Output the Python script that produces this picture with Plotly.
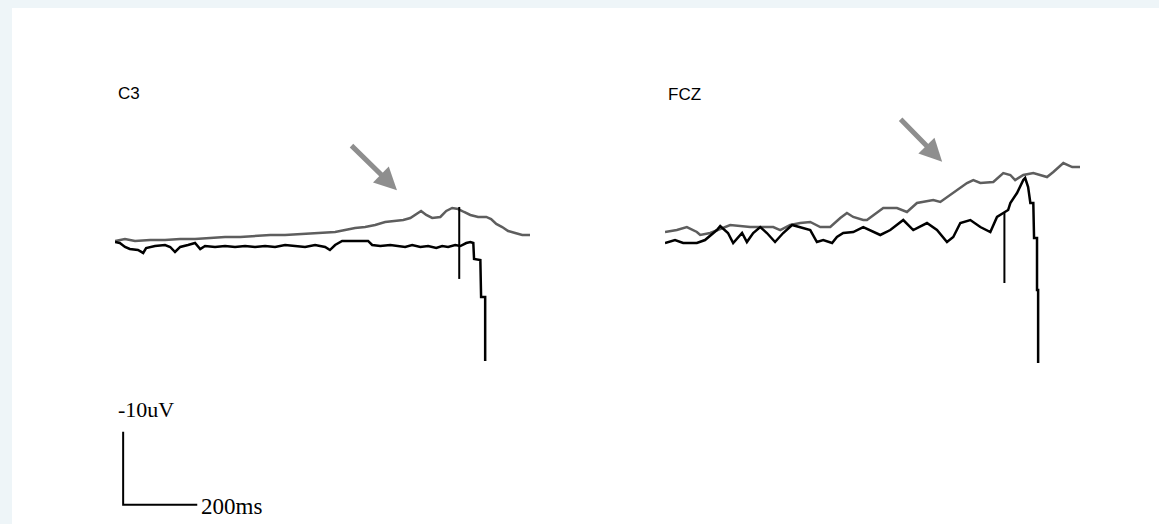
import plotly.graph_objects as go

# ---- data (time in ms, amplitude in uV; negative plotted upward) ----
c3_black_t = [0, 13, 27, 40, 62, 76, 84, 108, 135, 149, 162, 176, 197, 216, 230, 243, 270, 297, 324, 351,
              378, 405, 432, 459, 486, 513, 540, 567, 580, 594, 613, 648, 683, 694, 716, 743, 764, 783, 802,
              824, 845, 867, 883, 899, 918, 932, 948, 959, 967, 969, 986, 988, 999, 999]
c3_black_v = [0.0, 0.14, 0.68, 0.96, 1.1, 1.5, 0.82, 0.55, 0.41, 0.68, 1.37, 0.68, 0.41, 0.14, 0.96, 0.55,
              0.68, 0.55, 0.68, 0.55, 0.68, 0.55, 0.68, 0.41, 0.55, 0.68, 0.41, 0.68, 1.1, 0.41, -0.14, -0.14,
              -0.14, 0.41, 0.55, 0.41, 0.55, 0.68, 0.41, 0.68, 0.55, 0.82, 0.55, 0.68, 0.41, 0.55, 0.14, 0.0,
              0.14, 2.33, 2.47, 7.53, 7.53, 16.3]

c3_gray_t = [0, 27, 54, 95, 135, 176, 216, 257, 297, 338, 378, 419, 459, 500, 540, 567, 594, 621, 648, 675,
             702, 729, 756, 778, 797, 813, 826, 840, 856, 878, 894, 910, 926, 942, 959, 980, 1002, 1015,
             1029, 1045, 1061, 1080, 1099, 1120]
c3_gray_v = [-0.14, -0.41, -0.14, -0.27, -0.27, -0.41, -0.41, -0.55, -0.68, -0.68, -0.82, -0.96, -0.96,
             -1.1, -1.23, -1.23, -1.37, -1.64, -1.92, -2.05, -2.33, -2.74, -2.88, -3.01, -3.29, -3.84,
             -4.25, -3.7, -3.29, -3.43, -4.25, -4.66, -4.52, -4.11, -3.7, -3.43, -3.43, -3.15, -2.47,
             -2.05, -1.51, -1.23, -0.96, -0.96]

fcz_black_t = [0, 27, 49, 86, 108, 140, 149, 170, 184, 208, 221, 238, 257, 275, 297, 319, 343, 365, 392,
               410, 427, 451, 464, 481, 508, 535, 581, 608, 643, 670, 707, 734, 761, 778, 797, 824, 851,
               878, 896, 913, 926, 932, 950, 967, 972, 980, 986, 994, 996, 1004, 1004, 1007, 1007]
fcz_black_v = [0.14, -0.27, 0.14, 0.14, -0.27, -1.64, -2.19, -1.23, 0.14, -1.23, 0.0, -1.23, -2.05, -1.23,
               0.0, -1.23, -2.33, -2.05, -1.64, 0.0, -0.27, 0.14, -0.68, -1.23, -1.37, -2.05, -0.96, -1.64,
               -3.01, -1.64, -2.6, -1.64, 0.0, -0.68, -2.6, -3.01, -2.05, -1.37, -3.43, -3.97, -4.38,
               -5.34, -6.71, -8.49, -8.77, -7.53, -5.34, -5.34, -0.55, -0.55, 6.58, 6.58, 16.58]

fcz_gray_t = [0, 32, 59, 86, 95, 122, 176, 230, 257, 292, 311, 338, 365, 392, 419, 446, 473, 491, 508,
              535, 545, 572, 589, 626, 653, 680, 724, 743, 778, 815, 832, 851, 886, 913, 932, 945, 967,
              994, 1031, 1048, 1075, 1099, 1120]
fcz_gray_v = [-1.37, -1.64, -2.05, -1.37, -0.96, -1.23, -2.33, -2.05, -2.05, -2.05, -1.64, -2.33, -2.6,
              -2.74, -2.05, -2.05, -3.29, -3.97, -3.43, -3.01, -3.01, -3.97, -4.66, -4.66, -4.11, -5.34,
              -5.75, -5.48, -6.71, -8.08, -8.49, -8.08, -8.22, -9.45, -9.18, -8.49, -9.18, -9.45, -8.9,
              -9.59, -10.82, -10.27, -10.27]

# event markers (vertical lines): time, top amplitude, bottom amplitude
c3_event = (929, -4.8, 5.06)
fcz_event = (916, -3.97, 5.62)

# scale bar: 200 ms horizontally, 10 uV vertically
bar_ms = 200
bar_uv = 10
bar_t0 = 22
bar_v0 = 36

channel_labels = ["C3", "FCZ"]

BLACK = "#000000"
GRAY = "#5e5e5e"

fig = go.Figure()

fig.add_trace(go.Scatter(x=c3_gray_t, y=c3_gray_v, mode="lines", xaxis="x", yaxis="y",
                         line=dict(color=GRAY, width=2.5), hoverinfo="skip"))
fig.add_trace(go.Scatter(x=c3_black_t, y=c3_black_v, mode="lines", xaxis="x", yaxis="y",
                         line=dict(color=BLACK, width=2.5), hoverinfo="skip"))
fig.add_trace(go.Scatter(x=[c3_event[0], c3_event[0]], y=[c3_event[1], c3_event[2]], mode="lines",
                         xaxis="x", yaxis="y", line=dict(color=BLACK, width=2), hoverinfo="skip"))

fig.add_trace(go.Scatter(x=fcz_gray_t, y=fcz_gray_v, mode="lines", xaxis="x2", yaxis="y",
                         line=dict(color=GRAY, width=2.5), hoverinfo="skip"))
fig.add_trace(go.Scatter(x=fcz_black_t, y=fcz_black_v, mode="lines", xaxis="x2", yaxis="y",
                         line=dict(color=BLACK, width=2.5), hoverinfo="skip"))
fig.add_trace(go.Scatter(x=[fcz_event[0], fcz_event[0]], y=[fcz_event[1], fcz_event[2]], mode="lines",
                         xaxis="x2", yaxis="y", line=dict(color=BLACK, width=2), hoverinfo="skip"))

# scale bar
fig.add_trace(go.Scatter(x=[bar_t0, bar_t0, bar_t0 + bar_ms], y=[bar_v0 - bar_uv, bar_v0, bar_v0],
                         mode="lines", xaxis="x", yaxis="y", line=dict(color=BLACK, width=2),
                         hoverinfo="skip"))

W, H = 1159, 524
annotations = [
    dict(text=channel_labels[0], x=116 / W, y=1 - 93 / H, xref="paper", yref="paper",
         xanchor="left", yanchor="middle", showarrow=False,
         font=dict(family="Liberation Sans, Arial", size=17, color="black")),
    dict(text=channel_labels[1], x=666 / W, y=1 - 94 / H, xref="paper", yref="paper",
         xanchor="left", yanchor="middle", showarrow=False,
         font=dict(family="Liberation Sans, Arial", size=17, color="black")),
    dict(text="-10uV", x=116 / W, y=1 - 409 / H, xref="paper", yref="paper",
         xanchor="left", yanchor="middle", showarrow=False,
         font=dict(family="Liberation Serif, Times New Roman", size=22, color="black")),
    dict(text="200ms", x=199 / W, y=1 - 506 / H, xref="paper", yref="paper",
         xanchor="left", yanchor="middle", showarrow=False,
         font=dict(family="Liberation Serif, Times New Roman", size=23, color="black")),
    # arrows pointing at the gray trace
    dict(x=761, y=-7.1, xref="x", yref="y", ax=-47, ay=-46, text="", showarrow=True,
         arrowhead=2, arrowsize=0.9, arrowwidth=5, arrowcolor="#8e8e8e", standoff=0),
    dict(x=748, y=-11.0, xref="x2", yref="y", ax=-43, ay=-44, text="", showarrow=True,
         arrowhead=2, arrowsize=0.9, arrowwidth=5, arrowcolor="#8e8e8e", standoff=0),
]

fig.update_layout(
    width=W, height=H, autosize=False,
    margin=dict(l=0, r=0, t=0, b=0, pad=0),
    paper_bgcolor="#eef5f8",
    plot_bgcolor="rgba(0,0,0,0)",
    showlegend=False,
    xaxis=dict(domain=[115 / W, 530 / W], range=[0, 1120], visible=False, fixedrange=True),
    xaxis2=dict(domain=[665 / W, 1080 / W], range=[0, 1120], visible=False, anchor="y",
                fixedrange=True),
    yaxis=dict(domain=[0, 1], range=[(H - 242) * 0.137, -242 * 0.137], visible=False,
               fixedrange=True),
    shapes=[dict(type="rect", xref="paper", yref="paper", x0=12 / W, x1=1.01, y0=-0.01,
                 y1=1 - 8 / H, fillcolor="white", line=dict(width=0), layer="below")],
    annotations=annotations,
)

fig.write_html("out.html", config={"displayModeBar": False})
